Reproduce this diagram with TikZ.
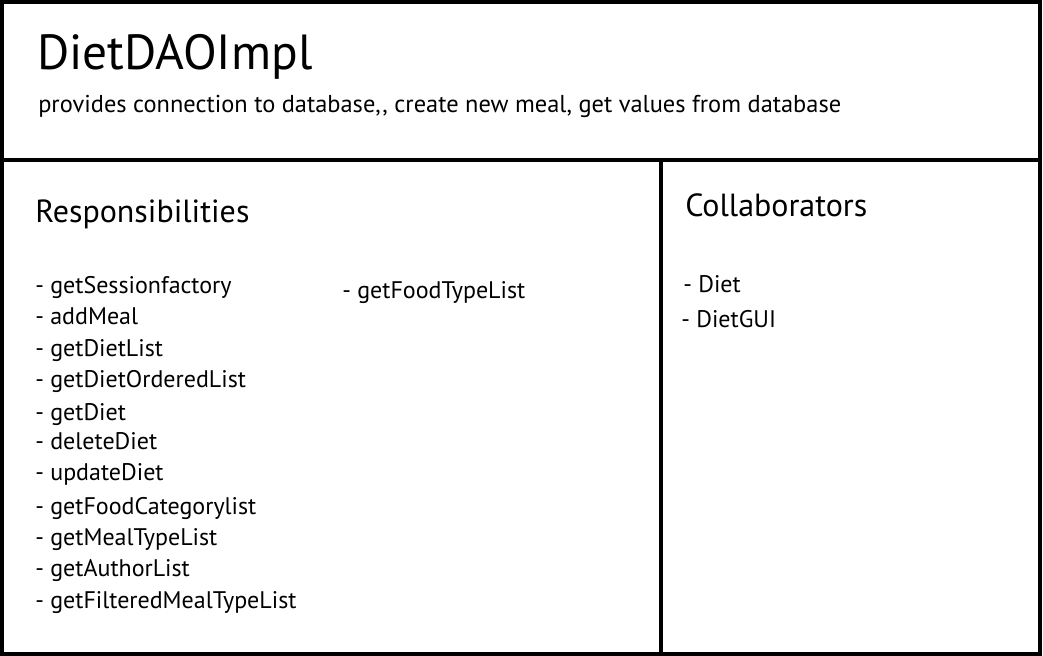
\documentclass[tikz,border=0pt]{standalone}
\usepackage{fontspec}
\setmainfont{PT Sans}
\usepackage{tikz}

\tikzset{
  cardline/.style={line width=2.6pt},
  txt/.style={anchor=base west, inner sep=0pt},
  head/.style={txt, font=\fontsize{24}{28}\selectfont},
  item/.style={txt, font=\fontsize{18}{21}\selectfont}
}

\begin{document}
\begin{tikzpicture}[x=0.75pt, y=-0.75pt]
\useasboundingbox (0,0) rectangle (1043,656);

\draw[cardline] (2,2) rectangle (1040,654);
\draw[cardline] (2,160) -- (1040,160);
\draw[cardline] (661,160) -- (661,654);

\node[txt, font=\fontsize{37}{42}\selectfont] (title) at (37,70) {DietDAOImpl};
\node[txt, font=\fontsize{18.3}{22}\selectfont] (desc) at (38,113) {provides connection to database,{}, create new meal, get values from database};

\node[head] (resp) at (35,223) {Responsibilities};
\node[head] (collab) at (685,217) {Collaborators};

\foreach \name/\y [count=\i] in {getSessionfactory/293, addMeal/324, getDietList/356,
  getDietOrderedList/387, getDiet/420, deleteDiet/449, updateDiet/480,
  getFoodCategorylist/514, getMealTypeList/545, getAuthorList/576,
  getFilteredMealTypeList/608}
  \node[item] (r\i) at (35,\y) {- \name};
\node[item] (r12) at (342,298) {- getFoodTypeList};

\node[item] (c1) at (683,292) {- Diet};
\node[item] (c2) at (681,327) {- DietGUI};
\end{tikzpicture}
\end{document}
